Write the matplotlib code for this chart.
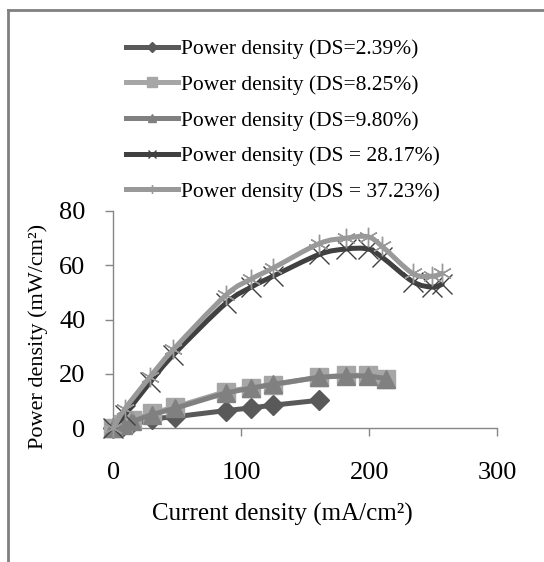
import numpy as np
import matplotlib
matplotlib.use("Agg")
import matplotlib.pyplot as plt
from matplotlib.path import Path
from matplotlib.patches import PathPatch
from matplotlib.lines import Line2D

plt.rcParams['font.family'] = ['Liberation Serif', 'DejaVu Serif']

# ---- data ----
labels = ["Power density (DS=2.39%)", "Power density (DS=8.25%)",
          "Power density (DS=9.80%)", "Power density (DS = 28.17%)",
          "Power density (DS = 37.23%)"]

x1 = [0, 8, 15, 30, 48, 88, 108, 125, 161]
y1 = [0, 1, 2, 3.5, 4.2, 6.5, 7.5, 8.5, 10.3]

x2 = [0, 8, 15, 30, 48, 88, 108, 125, 161, 182, 199, 213]
y2 = [0, 1.5, 3, 5.5, 7.8, 13.5, 15, 16, 18.8, 19.5, 19.5, 18.0]

x3 = [0, 8, 15, 30, 48, 88, 108, 125, 161, 182, 199, 213]
y3 = [0, 1.2, 2.5, 5, 7.3, 13, 14.8, 16.2, 18.8, 19.3, 19.3, 18.3]

x4 = [0, 9, 29, 47, 88, 108, 125, 161, 182, 199, 210, 234, 249, 257]
y4 = [0, 5, 17, 27, 46, 52, 56, 64, 66, 66, 63, 54, 52, 53]

x5 = [0, 9, 29, 47, 88, 108, 125, 161, 182, 199, 210, 234, 249, 257]
y5 = [0, 7, 19, 29, 49, 55, 59, 68, 70, 70.5, 67, 57, 56, 57]

xticks = [0, 100, 200, 300]
yticks = [0, 20, 40, 60, 80]

colors = ["#595959", "#a6a6a6", "#808080", "#404040", "#999999"]


def smooth_path(x, y):
    # Catmull-Rom style cubic Bezier through the data points (Excel "smoothed line")
    x = np.asarray(x, float)
    y = np.asarray(y, float)
    pts = np.column_stack([x, y])
    verts = [pts[0]]
    codes = [Path.MOVETO]
    n = len(pts)
    for i in range(n - 1):
        p0 = pts[i - 1] if i > 0 else pts[i]
        p1 = pts[i]
        p2 = pts[i + 1]
        p3 = pts[i + 2] if i + 2 < n else pts[i + 1]
        c1 = p1 + (p2 - p0) / 6.0
        c2 = p2 - (p3 - p1) / 6.0
        verts += [c1, c2, p2]
        codes += [Path.CURVE4] * 3
    return Path(verts, codes)


fig = plt.figure(figsize=(5.44, 5.62), dpi=100)
ax = fig.add_axes([0.208, 0.238, 0.706, 0.3866])

lw = 3.6
# straight-line series
ax.plot(x1, y1, color=colors[0], lw=lw, marker='D', ms=10, zorder=3, clip_on=False)
ax.plot(x2, y2, color=colors[1], lw=lw, marker='s', ms=13, zorder=3, clip_on=False)
ax.plot(x3, y3, color=colors[2], lw=lw, marker='^', ms=13, zorder=4, clip_on=False)

# smoothed series
for xs, ys, c, m, z in [(x4, y4, colors[3], 'x', 5), (x5, y5, colors[4], (6, 2, 0), 6)]:
    ax.add_patch(PathPatch(smooth_path(xs, ys), facecolor='none', edgecolor=c,
                           lw=lw, zorder=z, capstyle='round', joinstyle='round',
                           clip_on=False))
    ax.plot(xs, ys, linestyle='none', marker=m, ms=14, mew=1.0, color=c, zorder=z,
            clip_on=False)

ax.set_xlim(0, 300)
ax.set_ylim(0, 80)
ax.set_xticks(xticks)
ax.set_yticks(yticks)
for s in ['top', 'right']:
    ax.spines[s].set_visible(False)
for s in ['left', 'bottom']:
    ax.spines[s].set_color('#868686')
    ax.spines[s].set_linewidth(1.0)
ax.tick_params(axis='both', direction='out', length=6, width=1.0, color='#868686',
               labelsize=19, pad=14)
ax.tick_params(axis='x', pad=18)

fig.text(0.519, 0.085, "Current density (mA/cm²)", ha='center', va='center', fontsize=18)
fig.text(0.07, 0.402, "Power density (mW/cm²)", ha='center', va='center',
         rotation=90, fontsize=16)

handles = [
    Line2D([], [], color=colors[0], lw=lw, marker='D', ms=5),
    Line2D([], [], color=colors[1], lw=lw, marker='s', ms=7),
    Line2D([], [], color=colors[2], lw=lw, marker='^', ms=6),
    Line2D([], [], color=colors[3], lw=lw, marker='x', ms=6, mew=1),
    Line2D([], [], color=colors[4], lw=lw, marker=(6, 2, 0), ms=6, mew=1),
]
fig.legend(handles, labels, loc='upper left', bbox_to_anchor=(0.232, 0.93),
           frameon=False, fontsize=15.5, handlelength=2.4, handletextpad=0.15,
           labelspacing=0.72, borderaxespad=0, borderpad=0)

# outer chart frame (top and left edges visible)
fig.add_artist(Line2D([8 / 544, 1.0], [1 - 10 / 562, 1 - 10 / 562],
                      transform=fig.transFigure, color='#808080', lw=2))
fig.add_artist(Line2D([8 / 544, 8 / 544], [0, 1 - 10 / 562],
                      transform=fig.transFigure, color='#808080', lw=2))

fig.savefig("out.png", dpi=100)
